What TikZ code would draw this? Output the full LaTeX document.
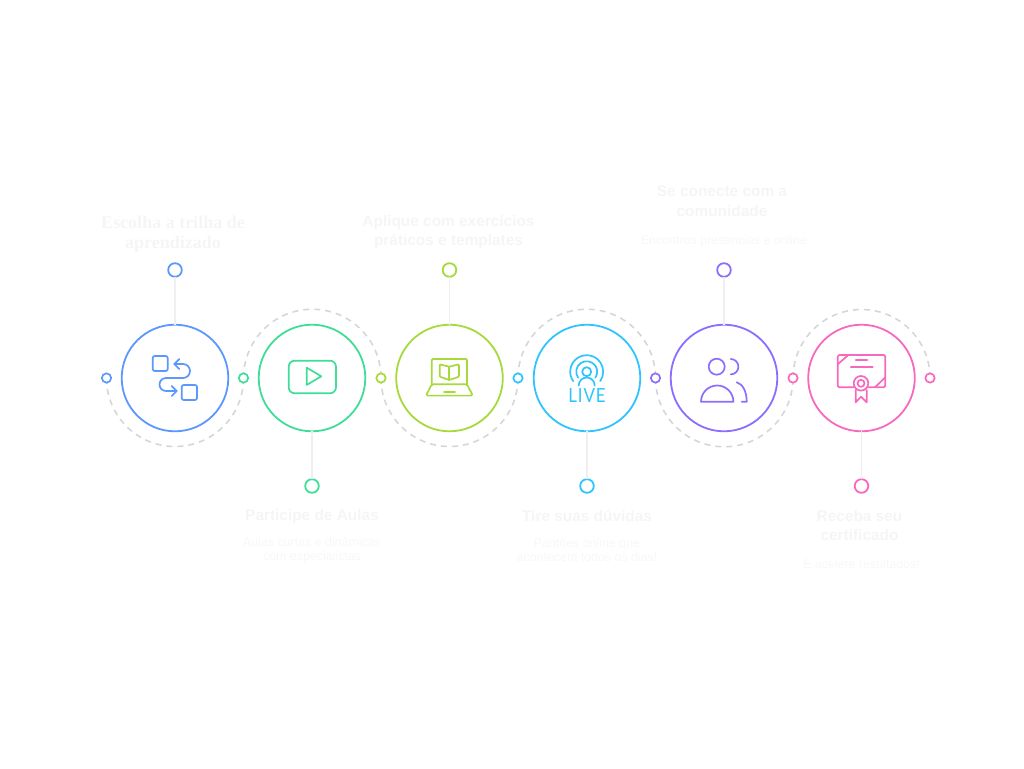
\documentclass[tikz,border=0pt]{standalone}
\usepackage{fontspec}
\setmainfont{Liberation Sans}
\newfontfamily\slabfont{Liberation Serif}
\newfontfamily\livefont[LetterSpace=5]{Lato}
\usetikzlibrary{backgrounds}
\definecolor{cblue}{HTML}{5B97FF}
\definecolor{cgreen}{HTML}{3FDD97}
\definecolor{clime}{HTML}{A6DA3A}
\definecolor{ccyan}{HTML}{2EC5FF}
\definecolor{cpurple}{HTML}{8C6DFF}
\definecolor{cpink}{HTML}{F868BF}
\definecolor{cdash}{HTML}{D6D6D6}
\definecolor{cstem}{HTML}{EFEFEF}
\definecolor{ctitle}{HTML}{F5F5F5}
\definecolor{cdesc}{HTML}{F7F7F7}
\tikzset{
  bigring/.style={circle,draw=#1,line width=1.8pt,minimum size=106.6pt,inner sep=0pt,outer sep=0pt},
  endring/.style={circle,draw=#1,fill=white,line width=1.8pt,minimum size=13.6pt,inner sep=0pt,outer sep=0pt},
  portring/.style={circle,draw=#1,fill=white,line width=1.7pt,minimum size=9.3pt,inner sep=0pt,outer sep=0pt},
  stem/.style={cstem,line width=1.5pt},
  wave/.style={cdash,line width=1.6pt,dash pattern=on 6pt off 5pt},
  glyph/.style={line width=1.7pt,line cap=round,line join=round},
  titletext/.style={text=ctitle,align=center,font=\fontsize{15.4}{19.6}\selectfont\bfseries,inner sep=0pt},
  slabtext/.style={text=ctitle,align=center,font=\slabfont\fontsize{18}{19.6}\selectfont\bfseries,inner sep=0pt},
  desctext/.style={text=cdesc,align=center,font=\fontsize{12.4}{14.4}\selectfont,inner sep=0pt},
}
\begin{document}
\begin{tikzpicture}[x=1pt,y=-1pt]
\useasboundingbox (0,0) rectangle (1024,768);
% main rings
\node[bigring=cblue]   (c1) at (175,378) {};
\node[bigring=cgreen]  (c2) at (312,378) {};
\node[bigring=clime]   (c3) at (449.5,378) {};
\node[bigring=ccyan]   (c4) at (587,378) {};
\node[bigring=cpurple] (c5) at (724,378) {};
\node[bigring=cpink]   (c6) at (861.5,378) {};
% end rings
\node[endring=cblue]   (e1) at (175,270) {};
\node[endring=cgreen]  (e2) at (312,486) {};
\node[endring=clime]   (e3) at (449.5,270) {};
\node[endring=ccyan]   (e4) at (587,486) {};
\node[endring=cpurple] (e5) at (724,270) {};
\node[endring=cpink]   (e6) at (861.5,486) {};
% port rings
\node[portring=cblue]   (p0) at (106.5,378) {};
\node[portring=cgreen]  (p1) at (243.5,378) {};
\node[portring=clime]   (p2) at (381,378) {};
\node[portring=ccyan]   (p3) at (518,378) {};
\node[portring=cpurple] (p4) at (655.5,378) {};
\node[portring=cpink]   (p5) at (793,378) {};
\node[portring=cpink]   (p6) at (930,378) {};
% stems
\foreach \i in {1,...,6} \draw[stem] (e\i) -- (c\i);
% dashed waves
\begin{scope}[on background layer]
\draw[wave] (p0.center) arc[start angle=180,end angle=0,radius=68.5];
\draw[wave] (p1.center) arc[start angle=180,end angle=360,radius=68.75];
\draw[wave] (p2.center) arc[start angle=180,end angle=0,radius=68.5];
\draw[wave] (p3.center) arc[start angle=180,end angle=360,radius=68.75];
\draw[wave] (p4.center) arc[start angle=180,end angle=0,radius=68.75];
\draw[wave] (p5.center) arc[start angle=180,end angle=360,radius=68.5];
\end{scope}
% labels
\node[slabtext]  (t1) at (173,234) {Escolha a trilha de\\aprendizado};
\node[titletext] (t3) at (448.5,232) {Aplique com exercícios\\práticos e templates};
\node[titletext] (t5) at (722,201) {Se conecte com a\\comunidade};
\node[desctext]  (d5) at (724,241) {Encontros presencias e online};
\node[titletext] (t2) at (312,517) {Participe de Aulas};
\node[desctext]  (d2) at (312,550) {Aulas curtas e dinâmicas\\com especialistas};
\node[titletext] (t4) at (587,515.5) {Tire suas dúvidas};
\node[desctext]  (d4) at (587,550) {Pantões online que\\acontecem todos os dias!};
\node[titletext] (t6) at (859.5,525.5) {Receba seu\\certificado};
\node[desctext]  (d6) at (861.5,564.5) {E acelere resultados!};
% icon 1: path between squares
\begin{scope}[glyph,cblue]
\draw[rounded corners=2pt] (152.7,356) rectangle (167.7,371);
\draw[rounded corners=2pt] (181.7,385) rectangle (197,400);
\draw (174.3,364) -- (183,364) arc[start angle=-90,end angle=90,radius=7] -- (166,378) arc[start angle=-90,end angle=-270,radius=6.5] -- (176.7,391);
\draw (179.3,359) -- (174.3,364) -- (179.3,369);
\draw (171.7,386) -- (176.7,391) -- (171.7,396);
\end{scope}
% icon 2: play
\begin{scope}[glyph,cgreen]
\draw[rounded corners=6pt] (288.7,360.7) rectangle (336,393.3);
\draw (306.7,367.7) -- (306.7,385) -- (321.3,376.3) -- cycle;
\end{scope}
% icon 3: laptop with book
\begin{scope}[glyph,clime]
\draw[rounded corners=1.2pt] (431.7,384.3) -- (431.7,359) -- (467,359) -- (467,384.3);
\draw[rounded corners=1.5pt] (431.7,384.3) -- (467,384.3) -- (472.8,395.6) -- (426,395.6) -- cycle;
\draw (444,392.3) -- (455,392.3);
\draw[rounded corners=1pt] (449.3,366.7) -- (439.7,364.3) -- (439.7,376.7) -- (449.3,380) -- (459,376.7) -- (459,364.3) -- cycle;
\draw (449.3,366.7) -- (449.3,380);
\end{scope}
% icon 4: live
\begin{scope}[glyph,ccyan]
\draw (586.7,371.7) circle[radius=4.5];
\draw (586.7,371.7) ++(145:10.5) arc[start angle=145,end angle=395,radius=10.5];
\draw (586.7,371.7) ++(145:16.5) arc[start angle=145,end angle=395,radius=16.5];
\draw (578.7,385.5) arc[start angle=180,end angle=360,radius=8];
\node[transform shape,xscale=0.87,inner sep=0pt,text=ccyan,font=\livefont\fontsize{19.5}{20}\selectfont] (live) at (587,395.3) {LIVE};
\end{scope}
% icon 5: people
\begin{scope}[glyph,cpurple]
\draw (716.7,366.7) circle[radius=8];
\draw (701,401.7) arc[start angle=180,end angle=360,radius=16.2] -- cycle;
\draw (730.7,359) arc[start angle=-90,end angle=90,radius=7.7];
\draw (736.7,382.3) .. controls (743,384) and (746.7,392) .. (746.7,401.7) -- (741.7,401.7);
\end{scope}
% icon 6: certificate
\begin{scope}[glyph,cpink]
\draw[rounded corners=1.5pt] (853.5,387.3) -- (837.7,387.3) -- (837.7,355) -- (885.3,355) -- (885.3,387.3) -- (868.5,387.3);
\draw (837.7,364.3) -- (848.3,355);
\draw (875,387.3) -- (885.3,377.3);
\draw (855.7,360) -- (867.3,360);
\draw (850.7,367.3) -- (872.7,367.3);
\draw (861,383.3) circle[radius=7.3];
\draw (861,383.3) circle[radius=3.5];
\draw (855.7,390) -- (855.7,402.3) -- (861,396.7) -- (866.7,402.3) -- (866.7,390);
\end{scope}
\end{tikzpicture}
\end{document}
